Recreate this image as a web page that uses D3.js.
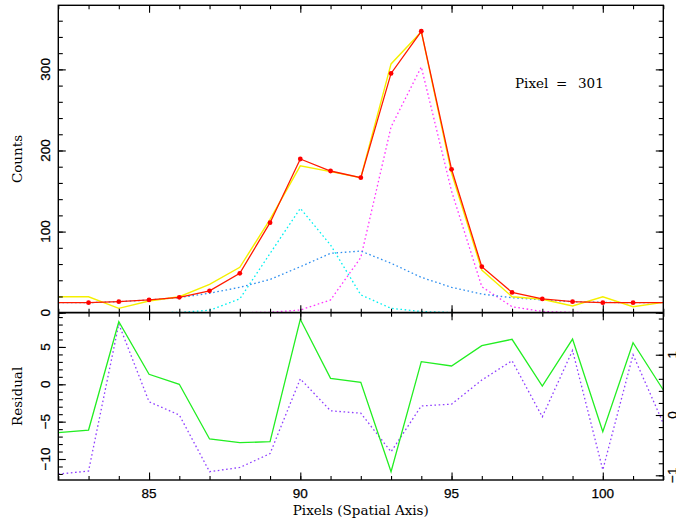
<!DOCTYPE html>
<html>
<head>
<meta charset="utf-8">
<script src="https://cdn.jsdelivr.net/npm/d3@7"></script>
<style>
  body { margin: 0; background: #fff; }
  svg { display: block; }
</style>
</head>
<body>
<svg id="chart" width="676" height="521"></svg>
<script>
// spatial pixel positions along the slit
var pixels = [82, 83, 84, 85, 86, 87, 88, 89, 90, 91, 92, 93, 94, 95, 96, 97, 98, 99, 100, 101, 102];
// observed profile (yellow)
var observed = [19.7, 19.7, 5.4, 14.4, 19.7, 35, 56, 115, 181, 174, 166.5, 306.7, 346.5, 172, 52.6, 19.7, 16.5, 8.3, 19.7, 7.4, 12.8];
// total fit (red, with points)
var fitTotal = [12.3, 12.3, 13.6, 15.7, 19, 27, 48.6, 111, 189.5, 174.7, 166.5, 295, 347, 176.8, 56.7, 25, 17, 13.6, 12.3, 12.3, 12.3];
// fit components (dotted)
var broadComp = [12.3, 12.3, 13.6, 15.7, 18.6, 24, 31.3, 41, 56.7, 73.2, 76, 61, 43.6, 31.3, 23, 18.5, 15.7, 13.6, 12.8, 12.3, 12.3];
var compA = [0, 0, 0, 0, 0.3, 3, 17, 73, 128.7, 83.5, 22, 5.4, 1.5, 0.2, 0, 0, 0, 0, 0, 0, 0];
var compB = [0, 0, 0, 0, 0, 0, 0, 0.5, 3.3, 15.7, 68, 229, 303, 150, 32, 7.4, 1.5, 0.3, 0, 0, 0];
// residuals: counts (left axis, green) and normalised (right axis, purple dotted)
var residual = [-6.48, -6.12, 8.38, 1.34, 0.0, -7.32, -7.82, -7.68, 8.70, 0.80, 0.27, -11.70, 3.03, 2.45, 5.17, 6.02, -0.23, 6.06, -6.35, 5.57, -0.76];
var residualNorm = [-0.98, -0.93, 1.51, 0.22, 0.0, -0.94, -0.87, -0.64, 0.60, 0.07, 0.03, -0.61, 0.15, 0.18, 0.58, 0.90, -0.03, 1.07, -0.91, 1.0, -0.14];

var xMajor = [85, 90, 95, 100];
var countsMajor = [0, 100, 200, 300];
var residMajor = [-10, -5, 0, 5];
var normMajor = [-1, 0, 1];
var pixelLabel = ["Pixel", "=", "301"];

var svg = d3.select("#chart");
var L = 58.3, R = 663.3, T = 5.3, MID = 312.7, B = 480;

var x = d3.scaleLinear().domain([82, 102]).range([L, R]);
var yTop = d3.scaleLinear().domain([0, 379]).range([MID, T]);
var yRes = d3.scaleLinear().domain([-12.81, 9.585]).range([B, MID]);
var yNorm = d3.scaleLinear().domain([-1.078, 1.697]).range([B, MID]);

var tickFont = "'Liberation Sans', Arial, sans-serif";
var titleFont = "'DejaVu Serif', 'Liberation Serif', serif";
var minus = function(v) { return String(v).replace("-", "\u2212"); };

var defs = svg.append("defs");
defs.append("clipPath").attr("id", "clipTop").append("rect")
  .attr("x", L).attr("y", T).attr("width", R - L).attr("height", MID - T);
defs.append("clipPath").attr("id", "clipBot").append("rect")
  .attr("x", L).attr("y", MID).attr("width", R - L).attr("height", B - MID);

// ---- top panel curves
var gTop = svg.append("g").attr("clip-path", "url(#clipTop)");
function lineOn(ys) {
  return d3.line().x(function(d, i) { return x(pixels[i]); }).y(function(d) { return ys(d); });
}
var dotted = "1.6,2.6";
gTop.append("path").datum(compA).attr("d", lineOn(yTop))
  .attr("fill", "none").attr("stroke", "#00f0f0").attr("stroke-width", 1.3).attr("stroke-dasharray", dotted);
gTop.append("path").datum(compB).attr("d", lineOn(yTop))
  .attr("fill", "none").attr("stroke", "#ff33ff").attr("stroke-width", 1.3).attr("stroke-dasharray", dotted);
gTop.append("path").datum(broadComp).attr("d", lineOn(yTop))
  .attr("fill", "none").attr("stroke", "#2f8fef").attr("stroke-width", 1.3).attr("stroke-dasharray", dotted);
gTop.append("path").datum(observed).attr("d", lineOn(yTop))
  .attr("fill", "none").attr("stroke", "#f5f000").attr("stroke-width", 1.4);
gTop.append("path").datum(fitTotal).attr("d", lineOn(yTop))
  .attr("fill", "none").attr("stroke", "#ff1a00").attr("stroke-width", 1.3);
gTop.selectAll("circle").data(fitTotal.slice(1, -1)).enter().append("circle")
  .attr("cx", function(d, i) { return x(pixels[i + 1]); })
  .attr("cy", function(d) { return yTop(d); })
  .attr("r", 2.4).attr("fill", "#ff0000");

// ---- bottom panel curves
var gBot = svg.append("g").attr("clip-path", "url(#clipBot)");
gBot.append("path").datum(residualNorm).attr("d", lineOn(yNorm))
  .attr("fill", "none").attr("stroke", "#8f3fff").attr("stroke-width", 1.3).attr("stroke-dasharray", dotted);
gBot.append("path").datum(residual).attr("d", lineOn(yRes))
  .attr("fill", "none").attr("stroke", "#22ee22").attr("stroke-width", 1.3);

// ---- ticks (inward, PGPLOT style)
function tickAxis(axis, values, size, tx, ty) {
  var g = svg.append("g").attr("transform", "translate(" + tx + "," + ty + ")")
    .call(axis.tickValues(values).tickSize(size).tickFormat(""));
  g.select(".domain").remove();
  g.selectAll("line").attr("stroke", "#000").attr("stroke-width", 1.1);
  return g;
}
var xMinor = d3.range(82, 103);
var cMinor = d3.range(0, 380, 20);
var rMinor = d3.range(-12, 10, 1);
var nMinor = d3.range(-1, 1.7, 0.2).map(function(v) { return Math.round(v * 10) / 10; });

[[xMinor, 4], [xMajor, 7.5]].forEach(function(p) {
  tickAxis(d3.axisTop(x), p[0], -p[1], 0, T);
  tickAxis(d3.axisBottom(x), p[0], -p[1], 0, MID);
  tickAxis(d3.axisTop(x), p[0], -p[1], 0, MID);
  tickAxis(d3.axisBottom(x), p[0], -p[1], 0, B);
});
[[cMinor, 4.5], [countsMajor, 7.5]].forEach(function(p) {
  tickAxis(d3.axisLeft(yTop), p[0], -p[1], L, 0);
  tickAxis(d3.axisRight(yTop), p[0], -p[1], R, 0);
});
[[rMinor, 4.5], [residMajor, 7.5]].forEach(function(p) {
  tickAxis(d3.axisLeft(yRes), p[0], -p[1], L, 0);
});
[[nMinor, 4.5], [normMajor, 7.5]].forEach(function(p) {
  tickAxis(d3.axisRight(yNorm), p[0], -p[1], R, 0);
});

// ---- frames
svg.append("rect").attr("x", L).attr("y", T).attr("width", R - L).attr("height", B - T)
  .attr("fill", "none").attr("stroke", "#000").attr("stroke-width", 1.4);
svg.append("line").attr("x1", L).attr("x2", R).attr("y1", MID).attr("y2", MID)
  .attr("stroke", "#000").attr("stroke-width", 1.8);

// ---- tick labels
function styleTick(sel) {
  sel.attr("font-family", tickFont).attr("font-size", 13.5)
    .attr("stroke", "#000").attr("stroke-width", 0.25);
}
svg.append("g").selectAll("text").data(xMajor).enter().append("text")
  .attr("x", function(d) { return x(d); }).attr("y", 498)
  .attr("text-anchor", "middle").call(styleTick)
  .text(function(d) { return d; });

function yLabels(values, scale, bx) {
  svg.append("g").selectAll("text").data(values).enter().append("text")
    .attr("transform", function(d) { return "translate(" + bx + "," + scale(d) + ") rotate(-90)"; })
    .attr("text-anchor", "middle").call(styleTick)
    .text(function(d) { return minus(d); });
}
yLabels(countsMajor, yTop, 50);
yLabels(residMajor, yRes, 50);
yLabels(normMajor, yNorm, 677);

// ---- titles
svg.append("text").attr("transform", "translate(22," + ((T + MID) / 2) + ") rotate(-90)")
  .attr("text-anchor", "middle").attr("font-family", titleFont).attr("font-size", 13.5).text("Counts");
svg.append("text").attr("transform", "translate(22," + ((MID + B) / 2) + ") rotate(-90)")
  .attr("text-anchor", "middle").attr("font-family", titleFont).attr("font-size", 13.5).text("Residual");
svg.append("text").attr("x", (L + R) / 2).attr("y", 515)
  .attr("text-anchor", "middle").attr("font-family", titleFont).attr("font-size", 13.5)
  .text("Pixels (Spatial Axis)");
var pl = svg.append("text").attr("y", 88).attr("font-family", titleFont).attr("font-size", 13.5);
pl.selectAll("tspan").data(pixelLabel).enter().append("tspan")
  .attr("x", function(d, i) { return [515, 556, 578][i]; })
  .text(function(d) { return d; });
</script>
</body>
</html>
